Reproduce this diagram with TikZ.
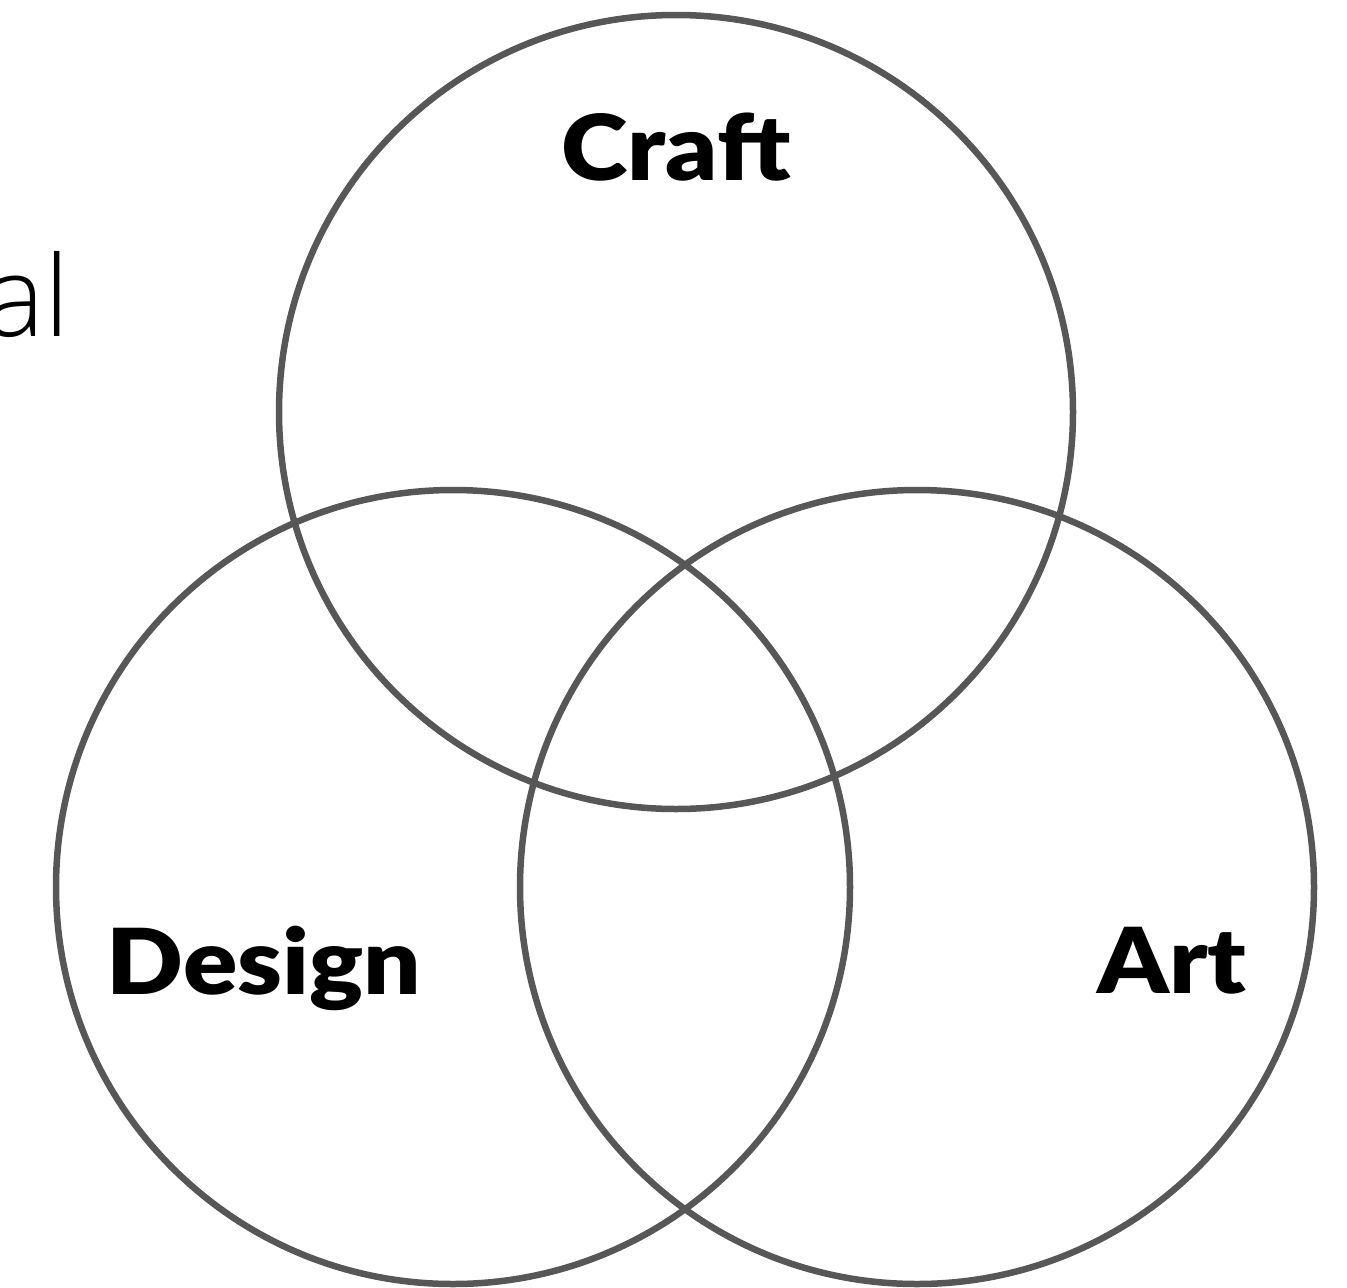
\documentclass[tikz,border=0pt]{standalone}
\usepackage{fontspec}
\usetikzlibrary{positioning}
\newfontfamily\etiqueta{Lato Black}[FakeStretch=1.11]
\newfontfamily\ligera{Open Sans Light}
\definecolor{gris}{HTML}{575757}

\begin{document}
\begin{tikzpicture}[x=1pt, y=-1pt,
    aro/.style={draw=gris, line width=6.5pt},
    rotulo/.style={font=\etiqueta\fontsize{91}{91}\selectfont, anchor=base, inner sep=0pt}]
        \useasboundingbox (0,0) rectangle (1347,1288);
        \node[font=\ligera\fontsize{112}{112}\selectfont, anchor=base east, inner sep=0pt] (resto) at (70,336) {al};
        \draw[aro] (676,412) circle (397);
        \draw[aro] (453,887) circle (397);
        \draw[aro] (917,887) circle (397);
        \node[rotulo] (craft) at (676,180) {Craft};
        \node[rotulo] (design) at (264,994) {Design};
        \node[rotulo] (art) at (1172,993) {Art};
      \end{tikzpicture}
\end{document}
